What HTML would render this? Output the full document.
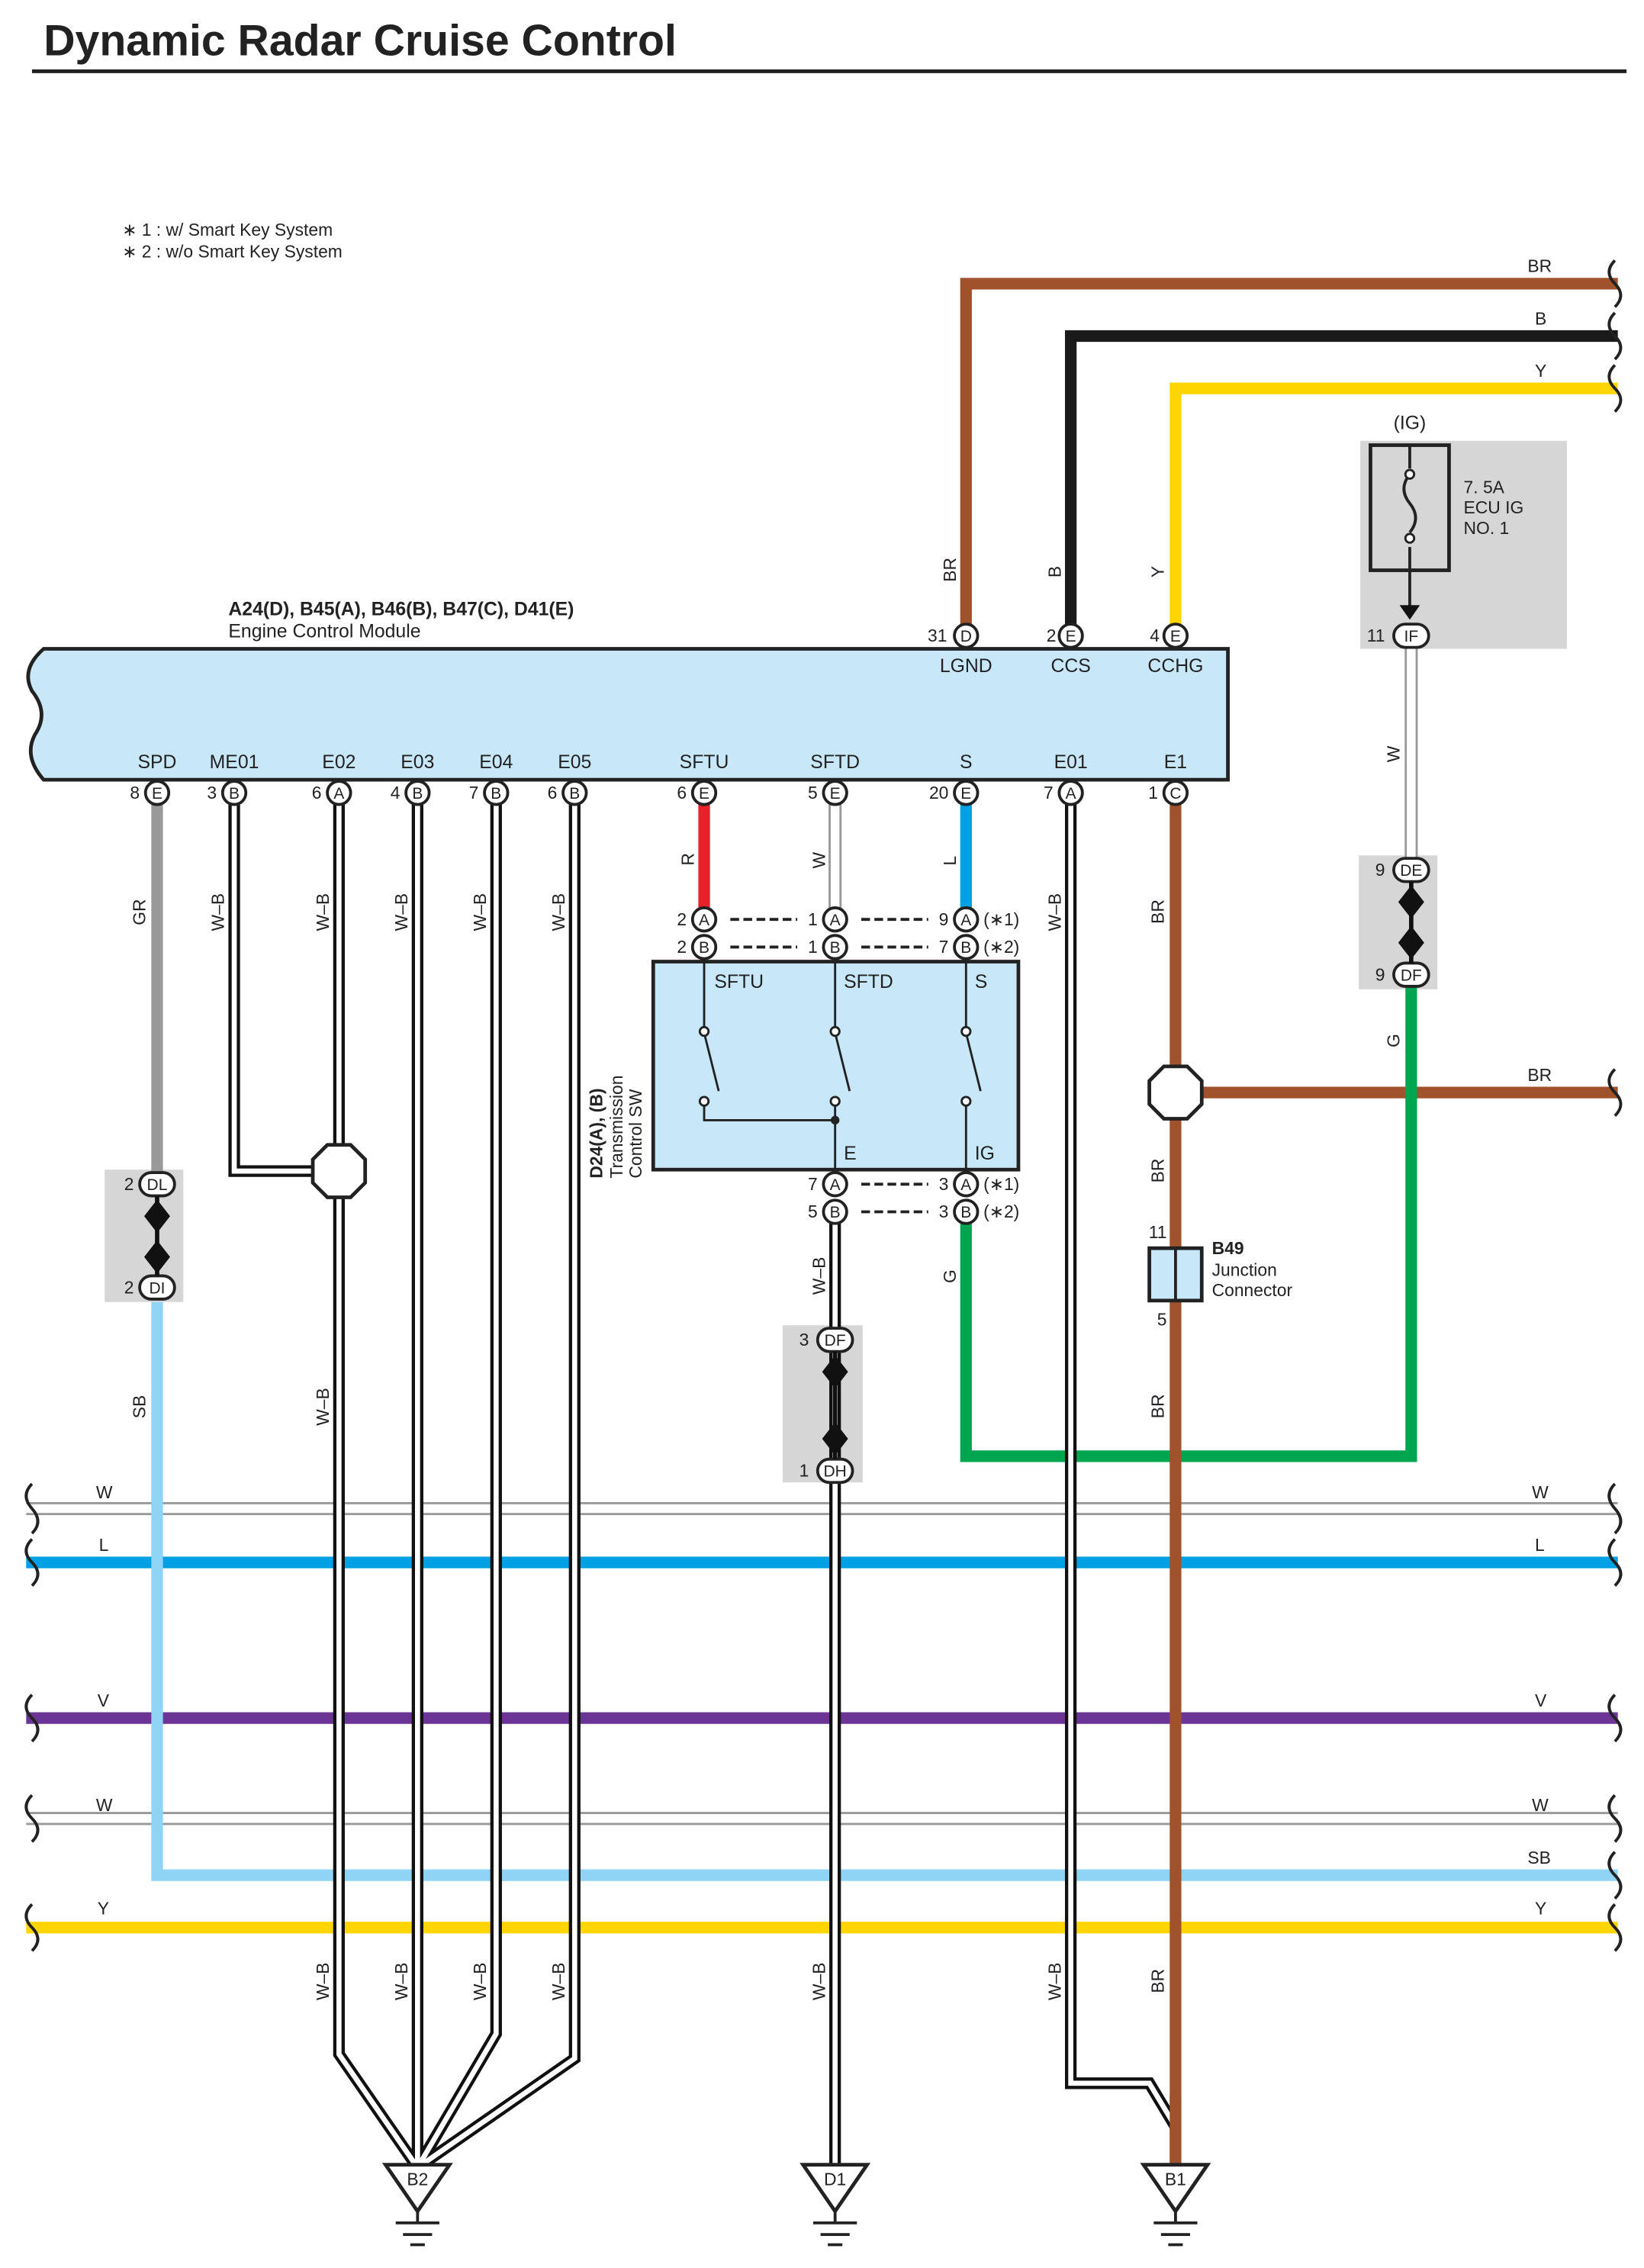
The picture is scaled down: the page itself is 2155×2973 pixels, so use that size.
<!DOCTYPE html>
<html><head><meta charset="utf-8"><style>
html,body{margin:0;padding:0;background:#fff;}
svg{display:block;}
text{font-family:"Liberation Sans",sans-serif;}
</style></head><body>
<svg width="2155" height="2973" viewBox="0 0 1130 1559" preserveAspectRatio="none" xmlns="http://www.w3.org/2000/svg">
<rect width="1130" height="1559" fill="#fff"/>
<text x="30" y="38" font-size="30" font-weight="bold" fill="#222">Dynamic Radar Cruise Control</text>
<line x1="22" y1="49" x2="1118" y2="49" stroke="#222" stroke-width="2.5"/>
<text x="84" y="162" font-size="12" fill="#222">∗ 1 : w/ Smart Key System</text>
<text x="84" y="177" font-size="12" fill="#222">∗ 2 : w/o Smart Key System</text>

<!-- gray boxes -->
<rect x="935" y="303" width="142" height="143" fill="#d6d6d6"/>
<rect x="934" y="588" width="54" height="92" fill="#d6d6d6"/>
<rect x="72" y="804" width="54" height="91" fill="#d6d6d6"/>
<rect x="538" y="911" width="55" height="108" fill="#d6d6d6"/>

<!-- bus lines -->
<g fill="none">
<line x1="18" y1="1037" x2="1112" y2="1037" stroke="#999" stroke-width="9"/>
<line x1="18" y1="1037" x2="1112" y2="1037" stroke="#fff" stroke-width="6"/>
<line x1="18" y1="1074" x2="1112" y2="1074" stroke="#00a0e4" stroke-width="8"/>
<line x1="18" y1="1181" x2="1112" y2="1181" stroke="#6a3594" stroke-width="8"/>
<line x1="18" y1="1250" x2="1112" y2="1250" stroke="#999" stroke-width="9"/>
<line x1="18" y1="1250" x2="1112" y2="1250" stroke="#fff" stroke-width="6"/>
<line x1="18" y1="1325" x2="1112" y2="1325" stroke="#ffd500" stroke-width="8"/>
<polyline points="108,895 108,1289 1112,1289" stroke="#8fd3f5" stroke-width="8"/>
<!-- top wires -->
<polyline points="664,436 664,195 1112,195" stroke="#a0522d" stroke-width="8"/>
<polyline points="736,436 736,231 1112,231" stroke="#1a1a1a" stroke-width="8"/>
<polyline points="808,436 808,267 1112,267" stroke="#ffd500" stroke-width="8"/>
<line x1="1112" y1="751" x2="808" y2="751" stroke="#a0522d" stroke-width="8"/>
<!-- SPD -->
<line x1="108" y1="545" x2="108" y2="805" stroke="#999" stroke-width="8"/>
<!-- SFTU red -->
<line x1="484" y1="545" x2="484" y2="624" stroke="#e8202a" stroke-width="8"/>
<!-- S blue -->
<line x1="664" y1="545" x2="664" y2="624" stroke="#00a0e4" stroke-width="8"/>
<!-- SFTD W -->
<line x1="574" y1="545" x2="574" y2="624" stroke="#999" stroke-width="9"/>
<line x1="574" y1="545" x2="574" y2="624" stroke="#fff" stroke-width="6"/>
<!-- G green -->
<polyline points="664,840 664,1001 970,1001 970,670" stroke="#00a550" stroke-width="8"/>
<!-- W IG -->
<line x1="970" y1="436" x2="970" y2="598" stroke="#999" stroke-width="9"/>
<line x1="970" y1="436" x2="970" y2="598" stroke="#fff" stroke-width="6"/>
<!-- E1 BR -->
<line x1="808" y1="545" x2="808" y2="1490" stroke="#a0522d" stroke-width="8"/>
<!-- W-B wires -->
<g stroke="#111" stroke-width="8">
<polyline points="161,545 161,805 233,805"/>
<polyline points="233,545 233,1412 287,1490"/>
<polyline points="287,545 287,1490"/>
<polyline points="341,545 341,1398 287,1490"/>
<polyline points="395,545 395,1415 287,1490"/>
<polyline points="736,545 736,1432 790,1432 808,1462"/>
<polyline points="574,840 574,1490"/>
</g>
<g stroke="#fff" stroke-width="3.5">
<polyline points="161,545 161,805 233,805"/>
<polyline points="233,545 233,1412 287,1490"/>
<polyline points="287,545 287,1490"/>
<polyline points="341,545 341,1398 287,1490"/>
<polyline points="395,545 395,1415 287,1490"/>
<polyline points="736,545 736,1432 790,1432 808,1462"/>
<polyline points="574,840 574,1490"/>
</g>
</g>
<line x1="808" y1="1440" x2="808" y2="1490" stroke="#a0522d" stroke-width="8"/>

<!-- bus end squiggles -->
<g fill="none" stroke="#222" stroke-width="2">
<path d="M22,1020 q-8,8 0,17 q8,9 0,17"/>
<path d="M22,1058 q-8,8 0,16 q8,8 0,16"/>
<path d="M22,1165 q-8,8 0,16 q8,8 0,16"/>
<path d="M22,1234 q-8,8 0,16 q8,8 0,16"/>
<path d="M22,1309 q-8,8 0,16 q8,8 0,16"/>
<path d="M1110,1020 q-8,8 0,17 q8,9 0,17"/>
<path d="M1110,1058 q-8,8 0,16 q8,8 0,16"/>
<path d="M1110,1165 q-8,8 0,16 q8,8 0,16"/>
<path d="M1110,1234 q-8,8 0,16 q8,8 0,16"/>
<path d="M1110,1273 q-8,8 0,16 q8,8 0,16"/>
<path d="M1110,1309 q-8,8 0,16 q8,8 0,16"/>
<path d="M1110,179 q-8,8 0,16 q8,8 0,16"/>
<path d="M1110,215 q-8,8 0,16 q8,8 0,16"/>
<path d="M1110,251 q-8,8 0,16 q8,8 0,16"/>
<path d="M1110,735 q-8,8 0,16 q8,8 0,16"/>
</g>

<!-- ECM -->
<path d="M30,446 L844,446 L844,536 L30,536 Q16,520 24,505 Q34,490 22,475 Q14,460 30,446 Z" fill="#c8e8fa" stroke="#222" stroke-width="2.5"/>
<text x="157" y="423" font-size="13" font-weight="bold" fill="#222">A24(D), B45(A), B46(B), B47(C), D41(E)</text>
<text x="157" y="438" font-size="13" fill="#222">Engine Control Module</text>
<g font-size="13" fill="#222" text-anchor="middle">
<text x="664" y="462">LGND</text><text x="736" y="462">CCS</text><text x="808" y="462">CCHG</text>
<text x="108" y="528">SPD</text><text x="161" y="528">ME01</text><text x="233" y="528">E02</text><text x="287" y="528">E03</text><text x="341" y="528">E04</text><text x="395" y="528">E05</text><text x="484" y="528">SFTU</text><text x="574" y="528">SFTD</text><text x="664" y="528">S</text><text x="736" y="528">E01</text><text x="808" y="528">E1</text>
</g>

<!-- connector pins -->
<g font-size="12" fill="#222" stroke="#222" stroke-width="2">
<g fill="#fff">
<circle cx="664" cy="437" r="8"/><circle cx="736" cy="437" r="8"/><circle cx="808" cy="437" r="8"/>
<circle cx="108" cy="545" r="8"/><circle cx="161" cy="545" r="8"/><circle cx="233" cy="545" r="8"/><circle cx="287" cy="545" r="8"/><circle cx="341" cy="545" r="8"/><circle cx="395" cy="545" r="8"/><circle cx="484" cy="545" r="8"/><circle cx="574" cy="545" r="8"/><circle cx="664" cy="545" r="8"/><circle cx="736" cy="545" r="8"/><circle cx="808" cy="545" r="8"/>
<circle cx="484" cy="632" r="8"/><circle cx="574" cy="632" r="8"/><circle cx="664" cy="632" r="8"/>
<circle cx="484" cy="651" r="8"/><circle cx="574" cy="651" r="8"/><circle cx="664" cy="651" r="8"/>
<circle cx="574" cy="814" r="8"/><circle cx="664" cy="814" r="8"/>
<circle cx="574" cy="833" r="8"/><circle cx="664" cy="833" r="8"/>
<rect x="958" y="429" width="24" height="16" rx="8"/>
<rect x="958" y="590" width="24" height="16" rx="8"/>
<rect x="958" y="662" width="24" height="16" rx="8"/>
<rect x="96" y="806" width="24" height="16" rx="8"/>
<rect x="96" y="877" width="24" height="16" rx="8"/>
<rect x="562" y="913" width="24" height="16" rx="8"/>
<rect x="562" y="1003" width="24" height="16" rx="8"/>
</g>
</g>
<g font-size="11" fill="#222" text-anchor="middle">
<text x="664" y="441">D</text><text x="736" y="441">E</text><text x="808" y="441">E</text>
<text x="108" y="549">E</text><text x="161" y="549">B</text><text x="233" y="549">A</text><text x="287" y="549">B</text><text x="341" y="549">B</text><text x="395" y="549">B</text><text x="484" y="549">E</text><text x="574" y="549">E</text><text x="664" y="549">E</text><text x="736" y="549">A</text><text x="808" y="549">C</text>
<text x="484" y="636">A</text><text x="574" y="636">A</text><text x="664" y="636">A</text>
<text x="484" y="655">B</text><text x="574" y="655">B</text><text x="664" y="655">B</text>
<text x="574" y="818">A</text><text x="664" y="818">A</text><text x="574" y="837">B</text><text x="664" y="837">B</text>
<text x="970" y="441">IF</text><text x="970" y="602">DE</text><text x="970" y="674">DF</text>
<text x="108" y="818">DL</text><text x="108" y="889">DI</text>
<text x="574" y="925">DF</text><text x="574" y="1015">DH</text>
</g>
<g font-size="12" fill="#222" text-anchor="end">
<text x="651" y="441">31</text><text x="726" y="441">2</text><text x="797" y="441">4</text>
<text x="96" y="549">8</text><text x="149" y="549">3</text><text x="221" y="549">6</text><text x="275" y="549">4</text><text x="329" y="549">7</text><text x="383" y="549">6</text><text x="472" y="549">6</text><text x="562" y="549">5</text><text x="652" y="549">20</text><text x="724" y="549">7</text><text x="796" y="549">1</text>
<text x="472" y="636">2</text><text x="562" y="636">1</text><text x="652" y="636">9</text>
<text x="472" y="655">2</text><text x="562" y="655">1</text><text x="652" y="655">7</text>
<text x="562" y="818">7</text><text x="652" y="818">3</text><text x="562" y="837">5</text><text x="652" y="837">3</text>
<text x="952" y="441">11</text><text x="952" y="602">9</text><text x="952" y="674">9</text>
<text x="92" y="818">2</text><text x="92" y="889">2</text><text x="556" y="925">3</text><text x="556" y="1015">1</text>
<text x="802" y="851">11</text><text x="802" y="911">5</text>
</g>
<g font-size="12" fill="#222">
<text x="676" y="636">(∗1)</text><text x="676" y="655">(∗2)</text><text x="676" y="818">(∗1)</text><text x="676" y="837">(∗2)</text>
</g>
<g stroke="#222" stroke-width="2" stroke-dasharray="6,3">
<line x1="502" y1="632" x2="548" y2="632"/><line x1="592" y1="632" x2="638" y2="632"/>
<line x1="502" y1="651" x2="548" y2="651"/><line x1="592" y1="651" x2="638" y2="651"/>
<line x1="592" y1="814" x2="638" y2="814"/><line x1="592" y1="833" x2="638" y2="833"/>
</g>
<!-- connector links (arrows) -->
<g stroke="#111" stroke-width="3" fill="#111">
<line x1="970" y1="445" x2="970" y2="590" stroke="#999" stroke-width="0"/>
<line x1="108" y1="822" x2="108" y2="877"/><polygon points="101,836 108,827 115,836 108,845"/><polygon points="101,864 108,873 115,864 108,855"/>
<line x1="970" y1="606" x2="970" y2="662"/><polygon points="963,620 970,611 977,620 970,629"/><polygon points="963,648 970,657 977,648 970,639"/>
<line x1="574" y1="929" x2="574" y2="1003"/><polygon points="567,943 574,934 581,943 574,952"/><polygon points="567,989 574,998 581,989 574,980"/>
</g>

<!-- fuse -->
<rect x="942" y="306" width="54" height="86" fill="none" stroke="#222" stroke-width="2.5"/>
<line x1="969" y1="306" x2="969" y2="418" stroke="#222" stroke-width="2"/>
<rect x="961" y="322" width="16" height="54" fill="#d6d6d6" stroke="none"/>
<path d="M969,326 q-8,10 0,20 q8,10 0,20" fill="none" stroke="#222" stroke-width="2"/>
<circle cx="969" cy="326" r="3" fill="#fff" stroke="#222" stroke-width="1.5"/>
<circle cx="969" cy="370" r="3" fill="#fff" stroke="#222" stroke-width="1.5"/>
<polygon points="962,416 976,416 969,426" fill="#111"/>
<text x="969" y="295" font-size="13" fill="#222" text-anchor="middle">(IG)</text>
<text x="1006" y="339" font-size="12" fill="#222">7. 5A</text>
<text x="1006" y="353" font-size="12" fill="#222">ECU IG</text>
<text x="1006" y="367" font-size="12" fill="#222">NO. 1</text>

<!-- octagon splices -->
<polygon points="225,787 241,787 251,797 251,813 241,823 225,823 215,813 215,797" fill="#fff" stroke="#222" stroke-width="2.5"/>
<polygon points="800,733 816,733 826,743 826,759 816,769 800,769 790,759 790,743" fill="#fff" stroke="#222" stroke-width="2.5"/>

<!-- Transmission control SW -->
<rect x="449" y="661" width="251" height="143" fill="#c8e8fa" stroke="#222" stroke-width="2.5"/>
<g stroke="#222" stroke-width="1.5" fill="none">
<line x1="484" y1="659" x2="484" y2="706"/><line x1="574" y1="659" x2="574" y2="706"/><line x1="664" y1="659" x2="664" y2="706"/>
<line x1="484" y1="710" x2="494" y2="750"/><line x1="574" y1="710" x2="584" y2="750"/><line x1="664" y1="710" x2="674" y2="750"/>
<polyline points="484,758 484,770 574,770 574,806"/>
<line x1="574" y1="758" x2="574" y2="770"/>
<line x1="664" y1="758" x2="664" y2="806"/>
</g>
<g fill="#fff" stroke="#222" stroke-width="1.5">
<circle cx="484" cy="709" r="3"/><circle cx="574" cy="709" r="3"/><circle cx="664" cy="709" r="3"/>
<circle cx="484" cy="757" r="3"/><circle cx="574" cy="757" r="3"/><circle cx="664" cy="757" r="3"/>
</g>
<circle cx="574" cy="770" r="3" fill="#222"/>
<g font-size="13" fill="#222">
<text x="491" y="679">SFTU</text><text x="580" y="679">SFTD</text><text x="670" y="679">S</text>
<text x="580" y="797">E</text><text x="670" y="797">IG</text>
</g>
<g font-size="12" fill="#222">
<text transform="translate(414,810) rotate(-90)" font-weight="bold">D24(A), (B)</text>
<text transform="translate(428,810) rotate(-90)">Transmission</text>
<text transform="translate(441,810) rotate(-90)">Control SW</text>
</g>

<!-- B49 junction -->
<rect x="790" y="858" width="36" height="36" fill="#c8e8fa" stroke="#222" stroke-width="2.5"/>
<line x1="808" y1="858" x2="808" y2="894" stroke="#222" stroke-width="2"/>
<text x="833" y="862" font-size="12" font-weight="bold" fill="#222">B49</text>
<text x="833" y="877" font-size="12" fill="#222">Junction</text>
<text x="833" y="891" font-size="12" fill="#222">Connector</text>

<!-- grounds -->
<g stroke="#222" stroke-width="2.5" fill="#fff">
<polygon points="265,1488 309,1488 287,1520"/>
<polygon points="552,1488 596,1488 574,1520"/>
<polygon points="786,1488 830,1488 808,1520"/>
</g>
<g stroke="#222" stroke-width="2">
<line x1="287" y1="1520" x2="287" y2="1528"/><line x1="272" y1="1528" x2="302" y2="1528"/><line x1="277" y1="1536" x2="297" y2="1536"/><line x1="282" y1="1543" x2="292" y2="1543"/>
<line x1="574" y1="1520" x2="574" y2="1528"/><line x1="559" y1="1528" x2="589" y2="1528"/><line x1="564" y1="1536" x2="584" y2="1536"/><line x1="569" y1="1543" x2="579" y2="1543"/>
<line x1="808" y1="1520" x2="808" y2="1528"/><line x1="793" y1="1528" x2="823" y2="1528"/><line x1="798" y1="1536" x2="818" y2="1536"/><line x1="803" y1="1543" x2="813" y2="1543"/>
</g>
<g font-size="12" fill="#222" text-anchor="middle">
<text x="287" y="1502">B2</text><text x="574" y="1502">D1</text><text x="808" y="1502">B1</text>
</g>

<!-- wire color labels -->
<g font-size="12" fill="#222">
<text x="1050" y="187">BR</text><text x="1055" y="223">B</text><text x="1055" y="259">Y</text><text x="1050" y="743">BR</text>
<text x="66" y="1030">W</text><text x="1053" y="1030">W</text>
<text x="68" y="1066">L</text><text x="1055" y="1066">L</text>
<text x="67" y="1173">V</text><text x="1055" y="1173">V</text>
<text x="66" y="1245">W</text><text x="1053" y="1245">W</text>
<text x="1050" y="1281">SB</text>
<text x="67" y="1316">Y</text><text x="1055" y="1316">Y</text>
</g>
<g font-size="12" fill="#222">
<text transform="translate(657,400) rotate(-90)">BR</text>
<text transform="translate(729,397) rotate(-90)">B</text>
<text transform="translate(800,397) rotate(-90)">Y</text>
<text transform="translate(100,636) rotate(-90)">GR</text>
<text transform="translate(154,640) rotate(-90)">W–B</text>
<text transform="translate(226,640) rotate(-90)">W–B</text>
<text transform="translate(280,640) rotate(-90)">W–B</text>
<text transform="translate(334,640) rotate(-90)">W–B</text>
<text transform="translate(388,640) rotate(-90)">W–B</text>
<text transform="translate(477,595) rotate(-90)">R</text>
<text transform="translate(567,597) rotate(-90)">W</text>
<text transform="translate(657,595) rotate(-90)">L</text>
<text transform="translate(729,640) rotate(-90)">W–B</text>
<text transform="translate(800,635) rotate(-90)">BR</text>
<text transform="translate(962,524) rotate(-90)">W</text>
<text transform="translate(962,720) rotate(-90)">G</text>
<text transform="translate(800,813) rotate(-90)">BR</text>
<text transform="translate(657,882) rotate(-90)">G</text>
<text transform="translate(567,890) rotate(-90)">W–B</text>
<text transform="translate(100,975) rotate(-90)">SB</text>
<text transform="translate(226,980) rotate(-90)">W–B</text>
<text transform="translate(800,975) rotate(-90)">BR</text>
<text transform="translate(226,1375) rotate(-90)">W–B</text>
<text transform="translate(280,1375) rotate(-90)">W–B</text>
<text transform="translate(334,1375) rotate(-90)">W–B</text>
<text transform="translate(388,1375) rotate(-90)">W–B</text>
<text transform="translate(567,1375) rotate(-90)">W–B</text>
<text transform="translate(729,1375) rotate(-90)">W–B</text>
<text transform="translate(800,1370) rotate(-90)">BR</text>
</g>
</svg>
</body></html>
